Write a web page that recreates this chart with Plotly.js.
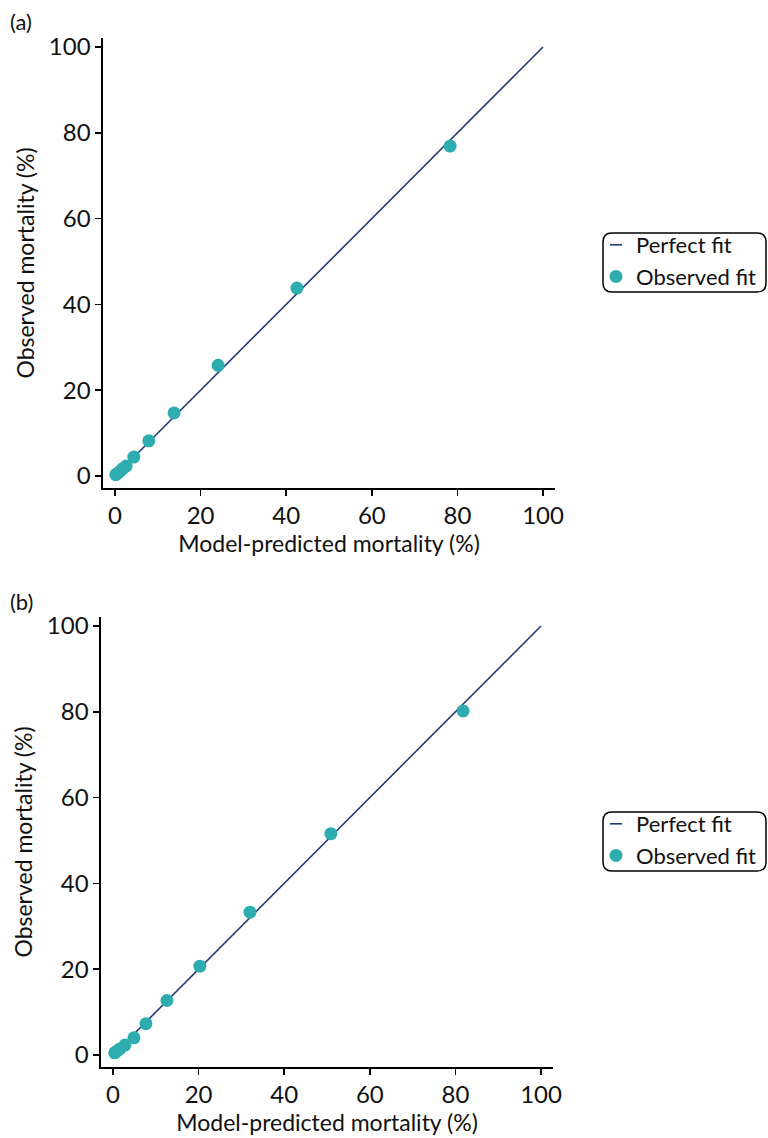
<!DOCTYPE html>
<html>
<head>
<meta charset="utf-8">
<script src="https://cdn.plot.ly/plotly-3.0.1.min.js"></script>
<style>html,body{margin:0;padding:0;background:#fff;}#chart{width:768px;height:1138px;}</style>
</head>
<body>
<div id="chart"></div>
<script>
// Panel (a)
const predA = [0.2, 0.6, 1.2, 1.8, 2.6, 4.4, 7.9, 13.8, 24.1, 42.5, 78.3];
const obsA  = [0.3, 0.6, 1.1, 1.7, 2.3, 4.4, 8.2, 14.7, 25.8, 43.8, 76.9];
// Panel (b)
const predB = [0.4, 0.9, 1.6, 2.8, 4.9, 7.7, 12.6, 20.3, 32.0, 50.9, 81.8];
const obsB  = [0.5, 0.9, 1.4, 2.3, 4.0, 7.3, 12.7, 20.7, 33.3, 51.6, 80.2];
const fitLine = [0, 100];
const tickVals = [0, 20, 40, 60, 80, 100];
const panelLabels = ['(a)', '(b)'];
const lineName = 'Perfect fit';
const pointName = 'Observed fit';
const xTitle = 'Model-predicted mortality (%)';
const yTitle = 'Observed mortality (%)';

const lineColor = '#233a78';
const ptColor = '#2eadb1';
const font = 'Lato, "Open Sans", sans-serif';
const txt = '#111';

const traces = [
  {x: fitLine, y: fitLine, mode: 'lines', name: lineName, line: {color: lineColor, width: 1.6}, xaxis: 'x', yaxis: 'y', legend: 'legend'},
  {x: predA, y: obsA, mode: 'markers', name: pointName, marker: {color: ptColor, size: 13}, xaxis: 'x', yaxis: 'y', legend: 'legend'},
  {x: fitLine, y: fitLine, mode: 'lines', name: lineName, line: {color: lineColor, width: 1.6}, xaxis: 'x2', yaxis: 'y2', legend: 'legend2'},
  {x: predB, y: obsB, mode: 'markers', name: pointName, marker: {color: ptColor, size: 13}, xaxis: 'x2', yaxis: 'y2', legend: 'legend2'}
];

function ax(extra) {
  return Object.assign({
    showline: true, linecolor: '#000', linewidth: 1.6,
    showgrid: false, zeroline: false,
    ticks: 'outside', ticklen: 6, tickwidth: 1.5, tickcolor: '#000',
    tickvals: tickVals, tickfont: {family: font, size: 24, color: txt}
  }, extra);
}

function roundRect(x0, y0, x1, y1, r) {
  const W = 768, H = 1138;
  const px = v => v / W, py = v => 1 - v / H;
  return 'M' + px(x0 + r) + ',' + py(y0) +
    ' L' + px(x1 - r) + ',' + py(y0) +
    ' Q' + px(x1) + ',' + py(y0) + ' ' + px(x1) + ',' + py(y0 + r) +
    ' L' + px(x1) + ',' + py(y1 - r) +
    ' Q' + px(x1) + ',' + py(y1) + ' ' + px(x1 - r) + ',' + py(y1) +
    ' L' + px(x0 + r) + ',' + py(y1) +
    ' Q' + px(x0) + ',' + py(y1) + ' ' + px(x0) + ',' + py(y1 - r) +
    ' L' + px(x0) + ',' + py(y0 + r) +
    ' Q' + px(x0) + ',' + py(y0) + ' ' + px(x0 + r) + ',' + py(y0) + ' Z';
}

const legendBase = {
  bgcolor: 'rgba(0,0,0,0)', borderwidth: 0,
  font: {family: font, size: 22, color: txt},
  xanchor: 'left', yanchor: 'top', tracegroupgap: 0, itemwidth: 30
};

const titleFont = {family: font, size: 23, color: txt};

const layout = {
  width: 768, height: 1138,
  margin: {l: 0, r: 0, t: 0, b: 0},
  paper_bgcolor: '#fff', plot_bgcolor: '#fff',
  font: {family: font, color: txt},
  xaxis: ax({domain: [103/768, 555/768], range: [-2.8, 102.8], anchor: 'y', title: {text: xTitle, standoff: 6, font: titleFont}}),
  yaxis: ax({domain: [1 - 488/1138, 1 - 38/1138], range: [-2.8, 102.1], anchor: 'x', title: {text: yTitle, standoff: 8, font: titleFont}}),
  xaxis2: ax({domain: [101/768, 553/768], range: [-2.8, 102.8], anchor: 'y2', title: {text: xTitle, standoff: 6, font: titleFont}}),
  yaxis2: ax({domain: [1 - 1067/1138, 1 - 617/1138], range: [-2.8, 102.1], anchor: 'x2', title: {text: yTitle, standoff: 8, font: titleFont}}),
  legend: Object.assign({}, legendBase, {x: 596/768, y: 1 - 224/1138}),
  legend2: Object.assign({}, legendBase, {x: 596/768, y: 1 - 803/1138}),
  shapes: [
    {type: 'path', xref: 'paper', yref: 'paper', path: roundRect(603, 233, 766, 292, 9), line: {color: '#000', width: 1.5}},
    {type: 'path', xref: 'paper', yref: 'paper', path: roundRect(603, 812, 766, 871, 9), line: {color: '#000', width: 1.5}}
  ],
  annotations: [
    {text: panelLabels[0], xref: 'paper', yref: 'paper', x: 8/768, y: 1 - 6/1138, xanchor: 'left', yanchor: 'top', showarrow: false, font: {family: font, size: 22, color: txt}},
    {text: panelLabels[1], xref: 'paper', yref: 'paper', x: 8/768, y: 1 - 586/1138, xanchor: 'left', yanchor: 'top', showarrow: false, font: {family: font, size: 22, color: txt}}
  ]
};

Plotly.newPlot('chart', traces, layout, {staticPlot: true, displayModeBar: false}).then(function (gd) {
  // shorten the legend line sample to match the reference's short dash
  gd.querySelectorAll('.legendlines path').forEach(function (p) {
    p.setAttribute('d', 'M14,0h12');
  });
});
</script>
</body>
</html>
